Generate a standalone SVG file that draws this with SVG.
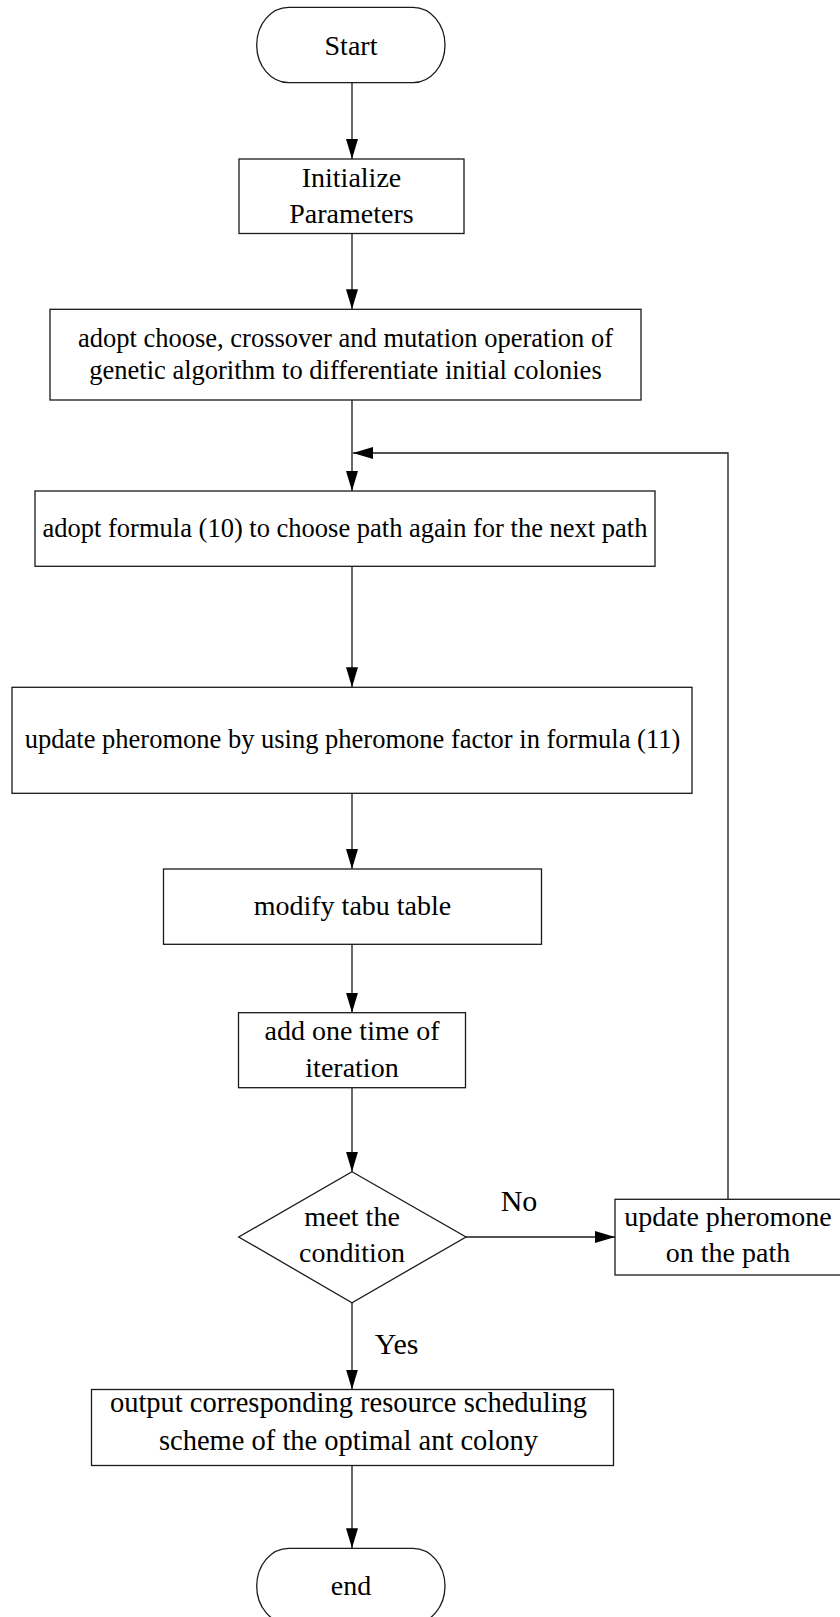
<svg xmlns="http://www.w3.org/2000/svg" width="840" height="1617" viewBox="0 0 840 1617">
<style>
.box{fill:#fff;stroke:#1a1a1a;stroke-width:1.3}
.t{font-family:"Liberation Serif","Times New Roman",serif;font-size:26.5px;fill:#000;text-anchor:middle}
.t2{font-family:"Liberation Serif","Times New Roman",serif;font-size:28px;fill:#000;text-anchor:middle}
.lbl{font-family:"Liberation Serif","Times New Roman",serif;font-size:30px;fill:#000;text-anchor:middle}
.c{fill:none;stroke:#1a1a1a;stroke-width:1.3;marker-end:url(#ah)}
</style>
<defs>
<marker id="ah" markerUnits="userSpaceOnUse" markerWidth="21" markerHeight="13" refX="20" refY="6" orient="auto">
<path d="M0,0 L20,6 L0,12 z" fill="#000"/>
</marker>
</defs>
<rect width="840" height="1617" fill="#fff"/>
<g id="connectors">
<path class="c" d="M352,82.7 V159"/>
<path class="c" d="M352,233.5 V309.3"/>
<path class="c" d="M352,400 V491"/>
<path class="c" d="M352,566.3 V687.3"/>
<path class="c" d="M352,793.3 V869"/>
<path class="c" d="M352,944.3 V1012.7"/>
<path class="c" d="M352,1087.7 V1171.7"/>
<path class="c" d="M466,1237 H615"/>
<path class="c" d="M728,1199.3 V453 H353"/>
<path class="c" d="M352,1302.7 V1389.5"/>
<path class="c" d="M352,1465.5 V1548.3"/>
<text class="lbl" x="519" y="1210.7">No</text>
<text class="lbl" x="396.7" y="1354">Yes</text>
</g>
<g id="start">
<rect class="box" x="256.7" y="7.3" width="188.3" height="75.4" rx="32" ry="37.7"/>
<text class="t2" x="351" y="55">Start</text>
</g>
<g id="init">
<rect class="box" x="239" y="159" width="225" height="74.5"/>
<text class="t2" x="351.5" y="187">Initialize</text>
<text class="t2" x="351.5" y="223">Parameters</text>
</g>
<g id="ga">
<rect class="box" x="50" y="309.3" width="591" height="90.7"/>
<text class="t" x="345.5" y="347">adopt choose, crossover and mutation operation of</text>
<text class="t" x="345.5" y="378.5">genetic algorithm to differentiate initial colonies</text>
</g>
<g id="choosepath">
<rect class="box" x="35" y="491" width="620" height="75.3"/>
<text class="t" x="345" y="536.7">adopt formula (10) to choose path again for the next path</text>
</g>
<g id="updatefactor">
<rect class="box" x="12" y="687.3" width="680" height="106"/>
<text class="t" x="352.5" y="748.3">update pheromone by using pheromone factor in formula (11)</text>
</g>
<g id="tabu">
<rect class="box" x="163.5" y="869" width="378" height="75.3"/>
<text class="t2" x="352.5" y="915">modify tabu table</text>
</g>
<g id="iter">
<rect class="box" x="238.5" y="1012.7" width="227" height="75"/>
<text class="t2" x="352" y="1039.5">add one time of</text>
<text class="t2" x="352" y="1077">iteration</text>
</g>
<g id="cond">
<polygon class="box" points="352,1171.7 466,1237 352,1302.7 238.7,1237"/>
<text class="t2" x="352" y="1225.5">meet the</text>
<text class="t2" x="352" y="1262">condition</text>
</g>
<g id="updatepath">
<rect class="box" x="615" y="1199.3" width="226" height="75.7"/>
<text class="t2" x="728" y="1226">update pheromone</text>
<text class="t2" x="728" y="1262">on the path</text>
</g>
<g id="output">
<rect class="box" x="91.5" y="1389.5" width="522" height="76"/>
<text class="t2" x="348.5" y="1412" style="font-size:28.5px">output corresponding resource scheduling</text>
<text class="t2" x="348.5" y="1450" style="font-size:28.5px">scheme of the optimal ant colony</text>
</g>
<g id="end">
<rect class="box" x="256.7" y="1548.3" width="188.3" height="75.4" rx="32" ry="37.7"/>
<text class="t2" x="351" y="1595">end</text>
</g>
</svg>
